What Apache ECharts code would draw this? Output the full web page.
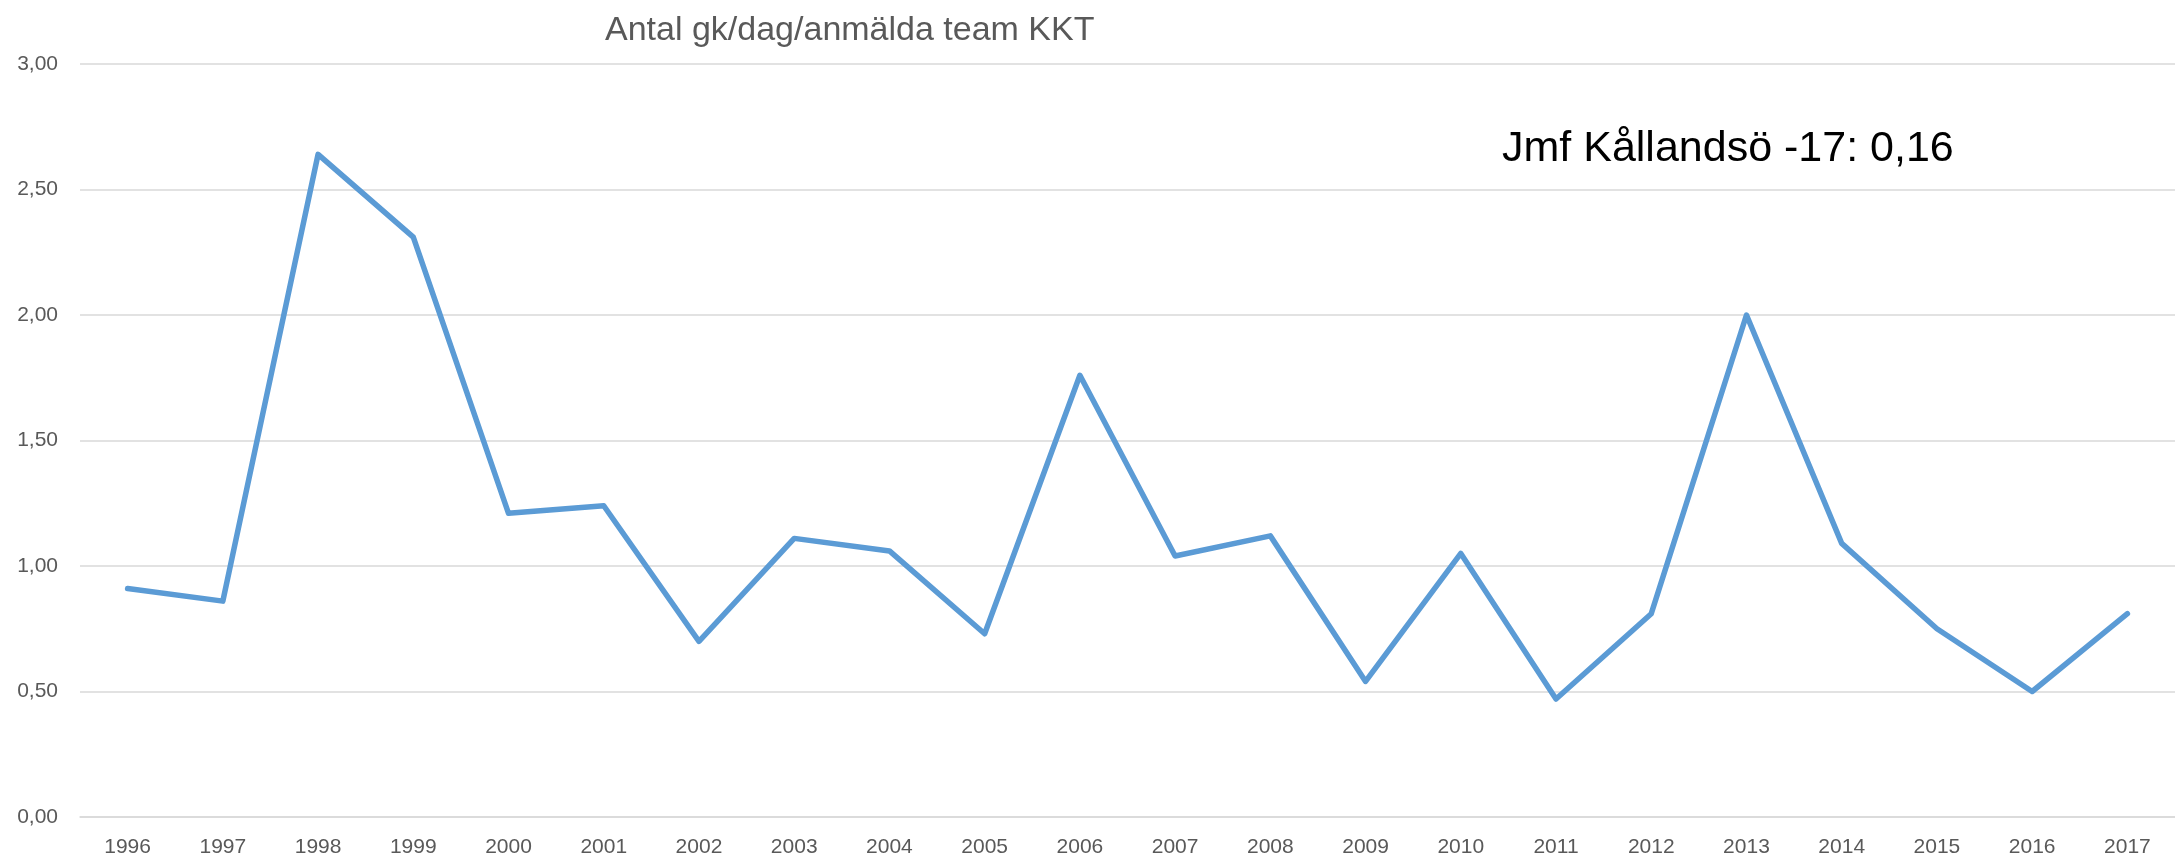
<!DOCTYPE html>
<html>
<head>
<meta charset="utf-8">
<script src="https://cdn.jsdelivr.net/npm/echarts@6/dist/echarts.min.js"></script>
<style>
  html, body { margin: 0; padding: 0; background: #fff; }
  #chart { width: 2175px; height: 859px; }
</style>
</head>
<body>
<div id="chart"></div>
<script>
var years = ['1996', '1997', '1998', '1999', '2000', '2001', '2002', '2003', '2004', '2005', '2006',
    '2007', '2008', '2009', '2010', '2011', '2012', '2013', '2014', '2015', '2016', '2017'];
var perTeam = [0.91, 0.86, 2.64, 2.31, 1.21, 1.24, 0.70, 1.11, 1.06, 0.73, 1.76,
    1.04, 1.12, 0.54, 1.05, 0.47, 0.81, 2.00, 1.09, 0.75, 0.50, 0.81];
var chartTitle = 'Antal gk/dag/anmälda team KKT';
var note = 'Jmf Kållandsö -17: 0,16';

var font = '"Liberation Sans", Arial, sans-serif';

var option = {
    backgroundColor: '#fff',
    animation: false,
    title: {
        text: chartTitle,
        left: 600,
        top: 9,
        textStyle: {
            color: '#595959',
            fontFamily: font,
            fontWeight: 'normal',
            fontSize: 34
        }
    },
    grid: {
        left: 80,
        right: 0,
        top: 64,
        bottom: 42
    },
    xAxis: {
        type: 'category',
        data: years,
        boundaryGap: true,
        axisLine: { show: true, lineStyle: { color: '#d9d9d9', width: 1.5 } },
        axisTick: { show: false },
        axisLabel: {
            color: '#595959',
            fontFamily: font,
            fontSize: 21,
            margin: 20
        }
    },
    yAxis: {
        type: 'value',
        min: 0,
        max: 3,
        interval: 0.5,
        axisLine: { show: false },
        axisTick: { show: false },
        splitLine: { lineStyle: { color: '#d9d9d9', width: 1.5 } },
        axisLabel: {
            color: '#595959',
            fontFamily: font,
            fontSize: 21,
            margin: 22,
            formatter: function (v) {
                return v.toFixed(2).replace('.', ',');
            }
        }
    },
    graphic: [
        {
            type: 'text',
            left: 1502,
            top: 128,
            style: {
                text: note,
                fill: '#000',
                font: '43px ' + font
            }
        }
    ],
    series: [
        {
            name: chartTitle,
            type: 'line',
            data: perTeam,
            symbol: 'none',
            lineStyle: { color: '#5b9bd5', width: 5.5, join: 'round', cap: 'round' }
        }
    ]
};

var chart = echarts.init(document.getElementById('chart'));
chart.setOption(option);
</script>
</body>
</html>
